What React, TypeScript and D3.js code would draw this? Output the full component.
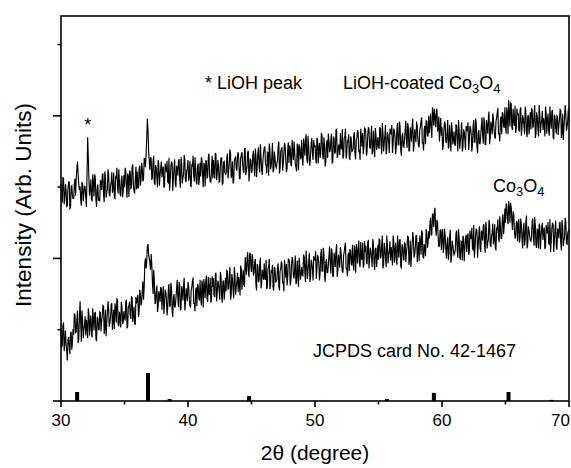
import React from 'react';
import * as d3 from 'd3';

// 2θ sampling of both scans
const angleStart = 30;
const angleStep = 0.05;

// bare Co3O4 scan (lower trace), 30.00–70.00°, one row per degree
const bareCo3O4 = [
  102, 78, 76, 106, 110, 70, 82, 99, 79, 70, 57, 86, 90, 76, 66, 95, 97, 72, 83, 101,
  93, 122, 121, 96, 97, 114, 127, 81, 87, 117, 140, 112, 83, 127, 114, 88, 100, 106, 119, 92,
  114, 104, 88, 130, 122, 92, 110, 120, 96, 89, 130, 114, 99, 123, 125, 87, 84, 118, 116, 100,
  100, 125, 124, 98, 111, 120, 134, 133, 94, 102, 128, 91, 108, 124, 140, 129, 104, 109, 118, 135,
  137, 100, 114, 128, 101, 137, 130, 110, 143, 142, 107, 105, 125, 117, 103, 139, 132, 108, 111, 126,
  117, 113, 140, 141, 102, 105, 132, 134, 139, 120, 115, 146, 145, 111, 120, 132, 109, 107, 146, 138,
  140, 149, 118, 125, 156, 150, 134, 138, 154, 168, 142, 160, 193, 200, 186, 196, 217, 220, 205, 200,
  194, 184, 206, 192, 166, 150, 184, 168, 136, 138, 154, 162, 125, 132, 154, 148, 139, 160, 158, 128,
  148, 161, 122, 135, 156, 153, 144, 120, 130, 156, 164, 133, 133, 166, 159, 127, 118, 145, 150, 131,
  133, 144, 157, 170, 144, 132, 167, 160, 127, 129, 161, 154, 141, 163, 173, 127, 137, 158, 151, 140,
  167, 160, 144, 133, 131, 155, 160, 168, 173, 137, 137, 126, 155, 159, 133, 164, 162, 144, 141, 170,
  146, 134, 169, 162, 131, 171, 161, 144, 168, 176, 144, 139, 174, 151, 149, 173, 138, 142, 175, 160,
  172, 148, 146, 176, 180, 140, 152, 169, 164, 155, 142, 181, 175, 146, 138, 167, 169, 142, 155, 173,
  154, 183, 182, 157, 158, 175, 188, 142, 148, 178, 171, 155, 144, 188, 175, 149, 161, 167, 180, 153,
  174, 164, 148, 190, 184, 156, 174, 184, 163, 160, 202, 188, 177, 201, 209, 182, 174, 205, 208, 188,
  181, 206, 199, 176, 180, 195, 199, 162, 155, 192, 189, 167, 169, 193, 201, 158, 165, 184, 179, 170,
  193, 172, 170, 198, 157, 160, 186, 188, 199, 157, 163, 182, 181, 191, 159, 155, 188, 186, 167, 168,
  170, 188, 193, 161, 155, 183, 185, 196, 192, 165, 168, 154, 198, 187, 173, 192, 162, 172, 199, 198,
  194, 162, 168, 190, 202, 199, 174, 172, 186, 204, 164, 167, 197, 179, 160, 201, 191, 170, 177, 188,
  177, 175, 205, 203, 181, 167, 211, 196, 171, 182, 194, 208, 167, 173, 198, 194, 184, 169, 203, 200,
  197, 210, 171, 184, 205, 202, 193, 169, 179, 205, 213, 182, 182, 215, 208, 176, 167, 194, 199, 180,
  180, 191, 204, 217, 191, 179, 214, 207, 174, 176, 208, 201, 188, 210, 220, 174, 184, 205, 198, 187,
  216, 209, 193, 182, 180, 204, 209, 217, 222, 186, 186, 175, 204, 208, 182, 213, 211, 193, 190, 219,
  195, 183, 218, 211, 180, 220, 210, 193, 217, 225, 193, 188, 223, 200, 198, 222, 187, 191, 224, 209,
  218, 194, 192, 222, 226, 186, 198, 215, 210, 201, 188, 227, 221, 192, 184, 213, 215, 188, 201, 219,
  198, 227, 226, 201, 202, 219, 232, 186, 192, 222, 215, 199, 188, 232, 219, 193, 205, 211, 224, 197,
  216, 206, 190, 232, 224, 194, 212, 222, 198, 191, 232, 216, 201, 225, 227, 189, 186, 220, 218, 202,
  197, 222, 221, 195, 208, 217, 231, 230, 191, 199, 225, 188, 205, 221, 237, 226, 201, 206, 215, 232,
  232, 195, 209, 223, 196, 232, 225, 205, 238, 237, 202, 200, 220, 214, 203, 241, 237, 215, 221, 238,
  228, 250, 257, 232, 234, 263, 259, 244, 266, 271, 240, 232, 254, 250, 229, 216, 218, 239, 240, 212,
  234, 241, 208, 215, 242, 233, 214, 200, 220, 230, 198, 207, 231, 240, 194, 201, 225, 219, 211, 205,
  207, 213, 235, 239, 211, 201, 241, 229, 201, 198, 224, 223, 197, 232, 228, 196, 214, 227, 233, 209,
  231, 235, 205, 208, 239, 230, 227, 243, 213, 212, 247, 201, 216, 234, 242, 239, 201, 219, 233, 245,
  214, 209, 238, 237, 225, 246, 248, 219, 208, 251, 242, 214, 222, 226, 254, 248, 218, 217, 232, 235,
  249, 220, 226, 248, 213, 212, 242, 241, 255, 229, 223, 259, 245, 228, 228, 255, 262, 234, 246, 270,
  250, 277, 274, 255, 248, 280, 273, 250, 278, 272, 252, 240, 266, 262, 241, 228, 230, 250, 252, 224,
  248, 255, 222, 229, 256, 247, 228, 214, 240, 250, 218, 227, 251, 260, 214, 221, 245, 239, 231, 225,
  224, 230, 252, 256, 228, 218, 258, 246, 218, 215, 241, 240, 214, 249, 245, 213, 231, 244, 250, 226,
  239, 243, 213, 216, 247, 238, 235, 251, 221, 220, 255, 209, 224, 242, 250, 247, 209, 227, 241, 253,
  217, 212, 241, 240, 228, 249, 251, 222, 211, 254, 245, 217, 225, 229, 257, 251, 221, 220, 235, 238,
  240,
];

// LiOH-coated Co3O4 scan (upper trace), 30.00–70.00°
const coatedCo3O4 = [
  304, 288, 278, 314, 312, 276, 284, 304, 296, 273, 274, 298, 307, 307, 270, 271, 301, 302, 287, 284,
  284, 304, 312, 288, 312, 326, 336, 318, 304, 296, 301, 283, 274, 306, 305, 280, 291, 302, 300, 286,
  272, 318, 370, 342, 310, 288, 298, 311, 284, 280, 318, 306, 287, 318, 313, 283, 272, 299, 304, 281,
  285, 280, 309, 308, 296, 317, 319, 290, 279, 322, 313, 285, 293, 297, 325, 319, 289, 288, 303, 306,
  321, 292, 298, 320, 285, 284, 314, 313, 327, 299, 291, 325, 309, 290, 287, 311, 316, 286, 295, 317,
  300, 327, 323, 301, 285, 319, 315, 286, 322, 322, 298, 299, 328, 332, 303, 293, 292, 311, 329, 297,
  322, 300, 298, 326, 330, 302, 310, 334, 326, 308, 312, 340, 340, 328, 346, 368, 396, 380, 350, 338,
  324, 342, 340, 310, 314, 336, 344, 305, 304, 331, 327, 312, 300, 338, 331, 302, 317, 326, 336, 314,
  325, 329, 299, 302, 333, 324, 321, 337, 307, 306, 341, 295, 310, 328, 336, 333, 295, 313, 327, 339,
  305, 300, 329, 328, 316, 337, 339, 310, 299, 342, 333, 305, 313, 317, 345, 339, 309, 308, 323, 326,
  338, 309, 315, 337, 302, 301, 331, 330, 344, 316, 308, 342, 326, 307, 304, 328, 333, 303, 312, 334,
  315, 342, 338, 316, 300, 334, 330, 301, 337, 337, 313, 314, 343, 347, 318, 308, 307, 326, 344, 312,
  338, 322, 312, 348, 346, 310, 318, 338, 330, 307, 308, 332, 341, 341, 304, 305, 335, 336, 321, 318,
  319, 339, 347, 312, 323, 334, 353, 347, 313, 316, 336, 305, 309, 338, 340, 343, 326, 323, 345, 349,
  338, 312, 312, 340, 346, 349, 334, 322, 320, 354, 354, 317, 323, 329, 349, 351, 308, 320, 340, 338,
  320, 323, 344, 351, 331, 315, 354, 344, 314, 330, 348, 356, 328, 321, 360, 342, 324, 317, 338, 348,
  355, 357, 332, 331, 319, 349, 348, 316, 361, 352, 325, 329, 343, 362, 321, 323, 350, 341, 329, 327,
  334, 338, 357, 364, 319, 326, 349, 354, 356, 323, 332, 348, 362, 357, 337, 321, 326, 352, 363, 334,
  358, 356, 332, 329, 366, 351, 338, 364, 350, 333, 328, 322, 361, 355, 324, 360, 355, 340, 341, 366,
  340, 330, 368, 358, 344, 367, 374, 340, 334, 372, 357, 335, 330, 347, 361, 369, 347, 338, 366, 356,
  359, 341, 333, 369, 367, 333, 355, 362, 341, 348, 375, 374, 344, 339, 370, 360, 329, 335, 361, 366,
  341, 375, 365, 349, 352, 367, 375, 334, 335, 370, 369, 347, 349, 380, 381, 341, 345, 359, 359, 345,
  376, 355, 353, 381, 340, 343, 369, 371, 382, 340, 346, 365, 364, 374, 342, 338, 371, 369, 350, 351,
  354, 372, 377, 345, 339, 367, 369, 380, 376, 349, 352, 338, 382, 371, 357, 376, 346, 356, 383, 382,
  376, 344, 350, 372, 384, 381, 356, 354, 368, 386, 346, 349, 379, 361, 342, 383, 373, 352, 359, 370,
  356, 354, 384, 382, 360, 346, 390, 375, 350, 361, 373, 387, 346, 352, 377, 373, 363, 348, 382, 379,
  374, 387, 348, 361, 382, 379, 370, 346, 356, 382, 390, 359, 359, 392, 385, 353, 344, 371, 376, 357,
  356, 367, 380, 393, 367, 355, 390, 383, 350, 352, 384, 377, 364, 386, 396, 350, 360, 381, 374, 363,
  392, 385, 369, 358, 356, 380, 385, 393, 398, 362, 362, 351, 382, 386, 360, 393, 392, 374, 371, 400,
  376, 392, 403, 380, 369, 412, 403, 386, 410, 398, 384, 404, 410, 378, 381, 399, 364, 384, 397, 372,
  384, 352, 358, 380, 392, 389, 364, 362, 376, 394, 354, 357, 387, 369, 350, 391, 381, 360, 367, 378,
  360, 358, 388, 386, 364, 350, 394, 379, 354, 365, 377, 391, 350, 356, 381, 377, 367, 352, 386, 383,
  378, 391, 352, 365, 386, 383, 374, 350, 360, 386, 394, 363, 363, 396, 389, 357, 348, 375, 380, 361,
  361, 372, 386, 398, 374, 361, 398, 390, 360, 360, 394, 386, 375, 396, 406, 360, 370, 392, 384, 374,
  403, 396, 380, 370, 368, 392, 397, 405, 411, 374, 376, 364, 395, 399, 374, 405, 403, 386, 383, 412,
  387, 375, 412, 403, 374, 422, 404, 385, 418, 417, 384, 380, 410, 392, 386, 414, 376, 383, 410, 401,
  404, 380, 378, 408, 412, 372, 384, 401, 396, 387, 374, 413, 407, 378, 370, 399, 401, 374, 387, 405,
  381, 410, 409, 384, 385, 402, 415, 369, 375, 405, 398, 382, 371, 415, 402, 376, 388, 394, 407, 380,
  397, 387, 371, 413, 405, 375, 393, 403, 379, 372, 413, 397, 382, 406, 408, 370, 367, 401, 399, 383,
  375, 400, 399, 373, 386, 395, 409, 408, 369, 377, 403, 366, 383, 399, 415, 404, 379, 384, 393, 410,
  392,
];

// JCPDS card No. 42-1467 reference lines (relative intensity, %)
const jcpdsAngles = [31.27, 36.85, 38.55, 44.81, 55.66, 59.36, 65.24, 68.64];
const jcpdsIntensity = [32, 100, 7, 18, 7, 29, 32, 4];

const xTicks = [30, 40, 50, 60, 70];
const xMinorTicks = [35, 45, 55, 65];
const yMajorTicks = [0, 200, 400];
const yMinorTicks = [100, 300, 500];

const font = "Arial, 'Liberation Sans', sans-serif";

const App = () => {
  const width = 571;
  const height = 468;
  const left = 61, right = 569, top = 16, bottom = 401;

  const x = d3.scaleLinear().domain([30, 70]).range([left, right]);
  const y = d3.scaleLinear().domain([0, 540]).range([bottom, top]);
  const refY = d3.scaleLinear().domain([0, 100]).range([bottom, bottom - 28]);

  const trace = d3.line<number>()
    .x((_, i) => x(angleStart + i * angleStep))
    .y(d => y(d));

  return (
    <svg width={width} height={height}
      style={{ position: 'absolute', left: 0, top: 0, background: '#fff' }}
      fontFamily={font}>
      {/* scans */}
      <path d={trace(bareCo3O4) || ''} fill="none" stroke="#000" strokeWidth={1.15} />
      <path d={trace(coatedCo3O4) || ''} fill="none" stroke="#000" strokeWidth={1.15} />

      {/* reference pattern */}
      {jcpdsAngles.map((a, i) => (
        <rect key={a} x={x(a) - 2} width={4}
          y={refY(jcpdsIntensity[i])} height={bottom - refY(jcpdsIntensity[i])} fill="#000" />
      ))}

      {/* frame */}
      <rect x={left} y={top} width={right - left} height={bottom - top}
        fill="none" stroke="#000" strokeWidth={1.6} />

      {/* x ticks */}
      {xTicks.map((t, i) => (
        <g key={t}>
          <line x1={x(t)} x2={x(t)} y1={bottom} y2={bottom + 6} stroke="#000" strokeWidth={1.6} />
          <text x={i === xTicks.length - 1 ? width - 1 : x(t)} y={bottom + 25} fontSize={17}
            textAnchor={i === xTicks.length - 1 ? 'end' : 'middle'}>{t}</text>
        </g>
      ))}
      {xMinorTicks.map(t => (
        <line key={t} x1={x(t)} x2={x(t)} y1={bottom} y2={bottom + 3.5} stroke="#000" strokeWidth={1.6} />
      ))}

      {/* y ticks */}
      {yMajorTicks.map(t => (
        <line key={t} x1={left - 8} x2={left} y1={y(t)} y2={y(t)} stroke="#000" strokeWidth={1.6} />
      ))}
      {yMinorTicks.map(t => (
        <line key={t} x1={left - 3.5} x2={left} y1={y(t)} y2={y(t)} stroke="#000" strokeWidth={1.6} />
      ))}

      {/* axis titles */}
      <text x={(left + right) / 2} y={460} fontSize={21} textAnchor="middle">2θ (degree)</text>
      <text transform={`translate(31,205) rotate(-90)`} fontSize={22.5} textAnchor="middle">
        Intensity (Arb. Units)
      </text>

      {/* annotations */}
      <text x={x(32.1)} y={131} fontSize={18} textAnchor="middle">*</text>
      <text x={205} y={89} fontSize={18}>* LiOH peak</text>
      <text x={343} y={89} fontSize={18}>
        LiOH-coated Co<tspan dy={4} fontSize={13}>3</tspan><tspan dy={-4}>O</tspan><tspan dy={4} fontSize={13}>4</tspan>
      </text>
      <text x={493} y={192} fontSize={18}>
        Co<tspan dy={4} fontSize={13}>3</tspan><tspan dy={-4}>O</tspan><tspan dy={4} fontSize={13}>4</tspan>
      </text>
      <text x={313} y={357} fontSize={18}>JCPDS card No. 42-1467</text>
    </svg>
  );
};

export default App;
